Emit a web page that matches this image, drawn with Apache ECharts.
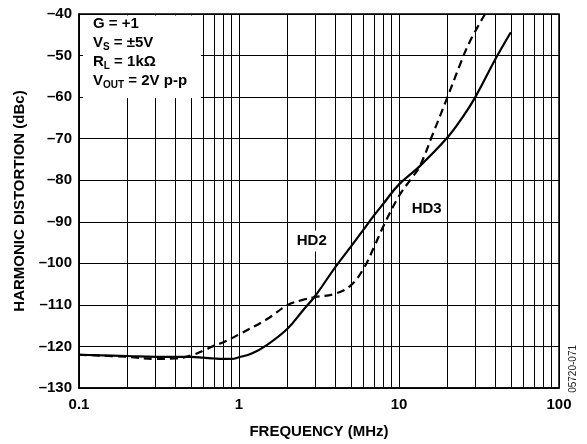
<!DOCTYPE html>
<html>
<head>
<meta charset="utf-8">
<script src="https://cdn.jsdelivr.net/npm/echarts@6/dist/echarts.min.js"></script>
<style>
html,body{margin:0;padding:0;background:#fff;}
#c{width:587px;height:444px;}
</style>
</head>
<body>
<div id="c"></div>
<script>
// HD2 (solid) — frequency in MHz, distortion in dBc
const freqHD2 = [0.1, 0.2, 0.3, 0.5, 0.6, 0.7, 0.8, 0.9, 1, 1.2, 1.5, 2, 2.5, 3, 4, 5, 6, 7, 8, 10, 13.5, 20, 25, 30, 40, 50];
const hd2     = [-122, -122.3, -122.5, -122.5, -122.7, -122.9, -123, -123, -122.6, -121.7, -119.6, -115.8, -111.4, -107.8, -100.9, -96, -91.9, -88.4, -85.6, -81, -76.6, -69.8, -64.8, -60, -50.9, -44.4];
// HD3 (dashed)
const freqHD3 = [0.1, 0.2, 0.3, 0.4, 0.5, 0.6, 0.7, 0.8, 1, 1.5, 2, 2.5, 3, 4, 5, 6, 7, 8, 10, 12, 13.5, 16.3, 20, 24, 27.5, 34.5];
const hd3     = [-122, -122.5, -123, -122.9, -122.2, -121, -119.8, -119, -117.1, -113.4, -110.1, -108.8, -108.1, -107.3, -105.3, -101.3, -96, -91, -83.8, -79.5, -76.6, -68.8, -60.2, -52.3, -46.9, -40];
// Axis ranges / ticks
const xMin = 0.1, xMax = 100;
const yMin = -130, yMax = -40, yStep = 10;
const minorFreqs = [];
[0.1, 1, 10].forEach(d => { for (let k = 2; k <= 9; k++) minorFreqs.push(+(d * k).toFixed(3)); });
// Annotations
const curveLabels = [
  { name: 'HD2', coord: [2.85, -94.6] },
  { name: 'HD3', coord: [14.9, -86.9] }
];

const FONT = '"Liberation Sans", Arial, Helvetica, sans-serif';
const chart = echarts.init(document.getElementById('c'), null, { renderer: 'canvas' });
const pair = (xs, ys) => xs.map((x, i) => [x, ys[i]]);

chart.setOption({
  animation: false,
  backgroundColor: '#fff',
  textStyle: { fontFamily: FONT },
  grid: { left: 79, top: 14, width: 480, height: 384, show: true, borderColor: '#000', borderWidth: 1.5, backgroundColor: 'transparent' },
  xAxis: {
    type: 'log', logBase: 10, min: xMin, max: xMax,
    name: 'FREQUENCY (MHz)', nameLocation: 'middle', nameGap: 36,
    nameTextStyle: { fontFamily: FONT, fontWeight: 'bold', fontSize: 15, color: '#000' },
    axisLine: { show: true, lineStyle: { color: '#000', width: 1.5 } },
    axisTick: { show: false },
    axisLabel: { margin: 9, fontFamily: FONT, fontWeight: 'bold', fontSize: 15, color: '#000',
      formatter: v => (v < 1 ? v.toFixed(1) : String(Math.round(v))) },
    splitLine: { show: true, lineStyle: { color: '#000', width: 1 } }
  },
  yAxis: {
    type: 'value', min: yMin, max: yMax, interval: yStep,
    name: 'HARMONIC DISTORTION (dBc)', nameLocation: 'middle', nameGap: 50,
    nameTextStyle: { fontFamily: FONT, fontWeight: 'bold', fontSize: 15, color: '#000' },
    axisLine: { show: true, lineStyle: { color: '#000', width: 1.5 } },
    axisTick: { show: false },
    axisLabel: { margin: 7, fontFamily: FONT, fontWeight: 'bold', fontSize: 15, color: '#000',
      formatter: v => String(v).replace('-', '\u2013') },
    splitLine: { show: true, lineStyle: { color: '#000', width: 1 } }
  },
  series: [
    {
      name: 'HD2', type: 'line', data: pair(freqHD2, hd2), smooth: 0.4, showSymbol: false,
      lineStyle: { color: '#000', width: 2.2, type: 'solid' }, z: 3,
      markLine: {
        silent: true, symbol: 'none', animation: false,
        label: { show: false },
        lineStyle: { color: '#000', width: 1, type: 'solid' },
        data: minorFreqs.map(f => ({ xAxis: f }))
      },
      markPoint: {
        silent: true, symbol: 'circle', symbolSize: 0,
        label: { show: true, position: 'inside', formatter: p => p.name, fontFamily: FONT, fontWeight: 'bold',
          fontSize: 15, color: '#000', backgroundColor: '#fff', padding: [3, 2] },
        data: curveLabels.map(c => ({ name: c.name, coord: c.coord }))
      }
    },
    {
      name: 'HD3', type: 'line', data: pair(freqHD3, hd3), smooth: 0.4, showSymbol: false,
      lineStyle: { color: '#000', width: 2.2, type: [8, 5] }, z: 3
    }
  ],
  graphic: [
    { type: 'rect', left: 83, top: 15.5, shape: { width: 118, height: 82.5 }, style: { fill: '#fff' }, z: 100 },
    {
      type: 'text', left: 93, top: 16.5, z: 101,
      style: {
        text: '{b|G = +1}\n{b|V}{s|S}{b| = \u00b15V}\n{b|R}{s|L}{b| = 1k\u03a9}\n{b|V}{s|OUT}{b| = 2V p-p}',
        rich: {
          b: { fontFamily: FONT, fontWeight: 'bold', fontSize: 15, lineHeight: 19, fill: '#000' },
          s: { fontFamily: FONT, fontWeight: 'bold', fontSize: 10, lineHeight: 8, verticalAlign: 'bottom', fill: '#000' }
        }
      }
    },
    {
      type: 'text', left: 568, top: 345, z: 101, rotation: Math.PI / 2,
      style: { text: '05720-071', fontFamily: FONT, fontSize: 10, fill: '#222' }
    }
  ]
});
</script>
</body>
</html>
